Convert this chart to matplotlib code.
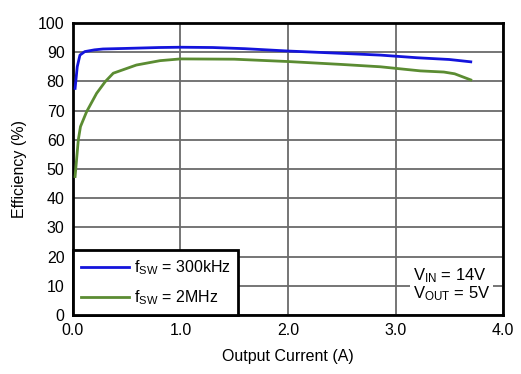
import matplotlib
matplotlib.use("Agg")
import matplotlib.pyplot as plt
from matplotlib.ticker import FormatStrFormatter

plt.rcParams['font.family'] = ['Liberation Sans', 'DejaVu Sans']
plt.rcParams['mathtext.default'] = 'regular'

# datos
corriente_300k = [0.02, 0.04, 0.065, 0.11, 0.2, 0.28, 0.5, 0.8, 1.0, 1.3, 1.6, 2.0, 2.5, 2.86, 3.2, 3.5, 3.7]
eficiencia_300k = [77.6, 85.0, 89.0, 90.2, 90.8, 91.1, 91.3, 91.6, 91.7, 91.6, 91.2, 90.4, 89.6, 89.0, 88.1, 87.5, 86.7]

corriente_2m = [0.02, 0.05, 0.07, 0.127, 0.22, 0.30, 0.375, 0.59, 0.81, 1.0, 1.5, 1.75, 2.0, 2.5, 2.86, 3.23, 3.45, 3.55, 3.7]
eficiencia_2m = [47.4, 60.0, 64.5, 69.6, 75.9, 79.9, 82.8, 85.6, 87.1, 87.7, 87.6, 87.2, 86.8, 85.8, 85.0, 83.6, 83.2, 82.6, 80.5]

etiquetas = [r'f$_{SW}$ = 300kHz', r'f$_{SW}$ = 2MHz']
colores = ['#1414dc', '#5b8c32']

fig = plt.figure(figsize=(5.21, 3.74), dpi=100)
ax = fig.add_axes([0.140, 0.158, 0.8255, 0.7805])

ax.plot(corriente_300k, eficiencia_300k, color=colores[0], lw=2, label=etiquetas[0], zorder=3)
ax.plot(corriente_2m, eficiencia_2m, color=colores[1], lw=2, label=etiquetas[1], zorder=3)

ax.set_xlim(0, 4)
ax.set_ylim(0, 100)
ax.set_xticks([0, 1, 2, 3, 4])
ax.set_yticks(range(0, 101, 10))
ax.xaxis.set_major_formatter(FormatStrFormatter('%.1f'))
ax.tick_params(length=0, labelsize=11.5, pad=6)
ax.grid(True, color='#6a6a6a', lw=1.3)
ax.set_axisbelow(True)
for linea in ax.get_ygridlines():
    if abs(linea.get_ydata()[0] - 70) < 0.01:
        linea.set_color('black')
for s in ax.spines.values():
    s.set_linewidth(2)
    s.set_color('black')

ax.set_xlabel('Output Current (A)', fontsize=11.5, labelpad=8)
ax.set_ylabel('Efficiency (%)', fontsize=11.5, labelpad=8)

leg = ax.legend(loc='lower left', bbox_to_anchor=(0, 0), borderaxespad=0,
                fancybox=False, edgecolor='black', framealpha=1,
                fontsize=11.5, handlelength=3.0, handletextpad=0.3,
                labelspacing=0.7, borderpad=0.5)
leg.get_frame().set_linewidth(2)

ax.text(0.79, 0.04, 'V$_{IN}$ = 14V\nV$_{OUT}$ = 5V', transform=ax.transAxes,
        ha='left', va='bottom', fontsize=12, linespacing=0.95,
        bbox=dict(facecolor='white', edgecolor='none', pad=2))

fig.savefig('out.png', dpi=100)
